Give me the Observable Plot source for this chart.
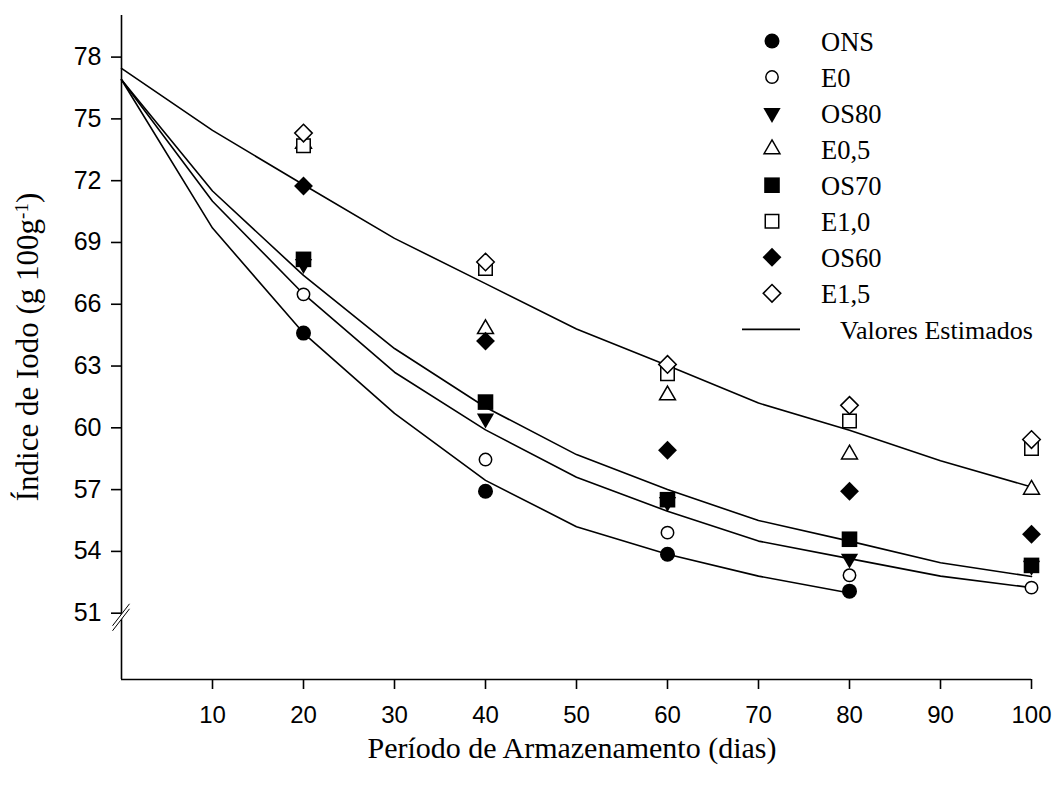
<!DOCTYPE html>
<html><head><meta charset="utf-8">
<script src="https://cdn.jsdelivr.net/npm/d3@7"></script>
<script src="https://cdn.jsdelivr.net/npm/@observablehq/plot@0.6"></script>
<style>
body{margin:0;background:#fff}
#chart{width:1055px;height:787px}
</style>
</head><body><div id="chart"></div>
<script>
// ---- Data ----
const days = [20, 40, 60, 80, 100];
const ONS  = [64.60, 56.92, 53.86, 52.07, null];
const E0   = [66.48, 58.46, 54.91, 52.84, 52.24];
const OS80 = [67.95, 60.45, 56.40, 53.65, 53.30];
const E05  = [73.80, 64.80, 61.58, 58.71, 57.00];
const OS70 = [68.18, 61.25, 56.51, 54.59, 53.32];
const E10  = [73.70, 67.73, 62.63, 60.33, 58.99];
const OS60 = [71.74, 64.21, 58.91, 56.92, 54.83];
const E15  = [74.31, 68.05, 63.08, 61.09, 59.43];

// Estimated curves (read at every 10 days)
const fitDays   = [0, 10, 20, 30, 40, 50, 60, 70, 80, 90, 100];
const fitUpper  = [77.45, 74.44, 71.80, 69.20, 67.00, 64.80, 63.03, 61.20, 59.88, 58.40, 57.13];
const fitMidA   = [76.90, 71.50, 67.40, 63.85, 61.00, 58.70, 57.00, 55.50, 54.50, 53.45, 52.78];
const fitMidB   = [76.90, 71.00, 66.50, 62.70, 59.90, 57.60, 55.95, 54.50, 53.65, 52.80, 52.24];
const fitLowDays = [0, 10, 20, 30, 40, 50, 60, 70, 80];
const fitLower  = [76.90, 69.70, 64.60, 60.70, 57.45, 55.20, 53.86, 52.80, 51.98];

const seriesNames = ["ONS", "E0", "OS80", "E0,5", "OS70", "E1,0", "OS60", "E1,5"];
const lineLabel = "Valores Estimados";
const xTicks = [10, 20, 30, 40, 50, 60, 70, 80, 90, 100];
const yTicks = [51, 54, 57, 60, 63, 66, 69, 72, 75, 78];
const xTitle = "Período de Armazenamento (dias)";
const yTitleMain = "Índice de Iodo (g 100g";
const yTitleSup = "-1";
const yTitleEnd = ")";

// ---- Symbols ----
const triangleDown = {
  draw(ctx, size) {
    const s3 = Math.sqrt(3);
    const y = -Math.sqrt(size / (s3 * 3));
    ctx.moveTo(0, -y * 2);
    ctx.lineTo(-s3 * y, y);
    ctx.lineTo(s3 * y, y);
    ctx.closePath();
  }
};
const styles = {
  "ONS":  {symbol: d3.symbolCircle,   r: 7.5, filled: true},
  "E0":   {symbol: d3.symbolCircle,   r: 6.2, filled: false},
  "OS80": {symbol: triangleDown,      r: 6.4, filled: true},
  "E0,5": {symbol: d3.symbolTriangle, r: 5.9, filled: false},
  "OS70": {symbol: d3.symbolSquare,   r: 8.8, filled: true},
  "E1,0": {symbol: d3.symbolSquare,   r: 7.6, filled: false},
  "OS60": {symbol: d3.symbolDiamond2, r: 8.5, filled: true},
  "E1,5": {symbol: d3.symbolDiamond2, r: 7.9, filled: false}
};
const valuesBySeries = {"ONS": ONS, "E0": E0, "OS80": OS80, "E0,5": E05, "OS70": OS70, "E1,0": E10, "OS60": OS60, "E1,5": E15};

const points = [];
for (const name of seriesNames) {
  valuesBySeries[name].forEach((v, i) => { if (v != null) points.push({series: name, day: days[i], value: v}); });
}
const fits = [];
[["u", fitDays, fitUpper], ["a", fitDays, fitMidA], ["b", fitDays, fitMidB], ["l", fitLowDays, fitLower]]
  .forEach(([k, xs, ys]) => xs.forEach((x, i) => fits.push({curve: k, day: x, value: ys[i]})));

const serif = "'Liberation Serif', 'Times New Roman', serif";
const sans = "'Liberation Sans', Arial, sans-serif";

// ---- Decorations drawn with the plot's scales ----
function axisBreak(index, scales) {
  const x0 = scales.x(0), yb = scales.y(50.8);
  const g = d3.create("svg:g");
  const dx = 8.5, dy = 11;
  g.append("path").attr("d", `M${x0 - dx},${yb - 2 + dy}L${x0 + dx},${yb - 2 - dy}L${x0 + dx},${yb + 3 - dy}L${x0 - dx},${yb + 3 + dy}Z`)
    .attr("fill", "white");
  for (const off of [-2, 3]) {
    g.append("line").attr("x1", x0 - dx).attr("y1", yb + off + dy).attr("x2", x0 + dx).attr("y2", yb + off - dy)
      .attr("stroke", "black").attr("stroke-width", 1);
  }
  return g.node();
}

function legend(index, scales, values, dims) {
  const g = d3.create("svg:g").attr("text-anchor", "start");
  const sx = 772, tx = 821, y0 = 41, step = 36.05;
  seriesNames.forEach((name, i) => {
    const st = styles[name];
    const y = y0 + i * step;
    g.append("path").attr("transform", `translate(${sx},${y})`)
      .attr("d", d3.symbol(st.symbol, Math.PI * st.r * st.r)())
      .attr("fill", st.filled ? "black" : "white")
      .attr("stroke", st.filled ? "none" : "black").attr("stroke-width", 1.5);
    g.append("text").attr("x", tx).attr("y", y + 10).attr("text-anchor", "start").text(name)
      .attr("font-family", serif).attr("font-size", 26.5).attr("fill", "black");
  });
  const ly = y0 + seriesNames.length * step;
  g.append("line").attr("x1", 742).attr("x2", 800).attr("y1", ly).attr("y2", ly).attr("stroke", "black").attr("stroke-width", 1.6);
  g.append("text").attr("x", 840).attr("y", ly + 10).attr("text-anchor", "start").text(lineLabel)
    .attr("font-family", serif).attr("font-size", 26).attr("fill", "black");
  return g.node();
}

function titles(index, scales, values, dims) {
  const g = d3.create("svg:g");
  const cx = (dims.marginLeft + dims.width - dims.marginRight) / 2;
  g.append("text").attr("x", cx - 4).attr("y", 758).attr("text-anchor", "middle")
    .attr("font-family", serif).attr("font-size", 30).attr("fill", "black").text(xTitle);
  const t = g.append("text").attr("transform", `translate(38,347) rotate(-90)`).attr("text-anchor", "middle")
    .attr("font-family", serif).attr("font-size", 31).attr("fill", "black");
  t.append("tspan").text(yTitleMain);
  t.append("tspan").attr("baseline-shift", "super").attr("font-size", 19).text(yTitleSup);
  t.append("tspan").text(yTitleEnd);
  return g.node();
}

const dotMarks = seriesNames.map(name => {
  const st = styles[name];
  return Plot.dot(points.filter(d => d.series === name), {
    x: "day", y: "value", symbol: st.symbol, r: st.r,
    fill: st.filled ? "black" : "white",
    stroke: st.filled ? "none" : "black", strokeWidth: 1.5
  });
});

const chart = Plot.plot({
  width: 1055, height: 787,
  marginLeft: 121, marginRight: 24, marginTop: 15, marginBottom: 108,
  x: {domain: [0, 100]},
  y: {domain: [47.78, 80.02]},
  style: {fontFamily: sans, fontSize: "24px", color: "black", background: "white", overflow: "visible"},
  marks: [
    Plot.ruleX([0], {stroke: "black", strokeWidth: 1.6}),
    Plot.ruleY([47.78], {stroke: "black", strokeWidth: 1.6}),
    Plot.axisX({ticks: xTicks, tickSize: 10, tickPadding: 16, label: null, strokeWidth: 1.6, fontSize: 24}),
    Plot.axisY({ticks: yTicks, tickSize: 10, tickPadding: 10, label: null, strokeWidth: 1.6, fontSize: 25}),
    axisBreak,
    Plot.line(fits, {x: "day", y: "value", z: "curve", stroke: "black", strokeWidth: 1.6}),
    ...dotMarks,
    legend,
    titles
  ]
});
document.getElementById("chart").appendChild(chart);
</script>
</body></html>
